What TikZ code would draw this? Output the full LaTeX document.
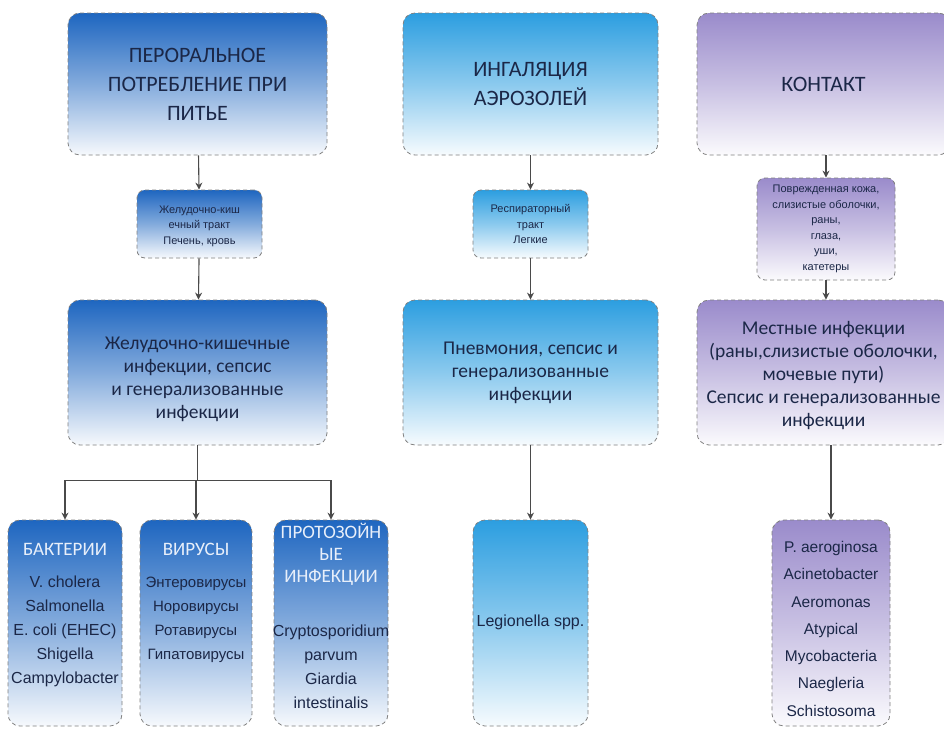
\documentclass[tikz,border=0pt]{standalone}
\usepackage{fontspec}
\setmainfont{Carlito}
\newfontfamily\listfont{Liberation Sans}
\usetikzlibrary{arrows.meta}

\definecolor{oralblue}{HTML}{1E66C0}
\definecolor{airblue}{HTML}{2C9EE0}
\definecolor{touchviolet}{HTML}{9A8BCB}
\definecolor{inktext}{HTML}{1B2747}
\definecolor{framegray}{HTML}{808080}
\definecolor{wirecol}{HTML}{4A4A4A}
\definecolor{paleheader}{HTML}{E8EFFA}

\tikzset{
  card/.style={draw=framegray, line width=0.8pt, dash pattern=on 4pt off 3pt,
    rounded corners=12pt, align=center, text=inktext, inner sep=0pt},
  oralcard/.style={card, top color=oralblue, bottom color=oralblue!4!white,
    middle color=oralblue!55!white},
  aircard/.style={card, top color=airblue, bottom color=airblue!4!white,
    middle color=airblue!55!white},
  touchcard/.style={card, top color=touchviolet, bottom color=touchviolet!4!white,
    middle color=touchviolet!55!white},
  sitecard/.style={rounded corners=8pt},
  headtext/.style={font=\fontsize{22}{29}\selectfont},
  midtext/.style={font=\fontsize{19.5}{23}\selectfont},
  sitetext/.style={font=\listfont\fontsize{11}{15.5}\selectfont},
  listtext/.style={font=\listfont\fontsize{16}{24}\selectfont, align=center,
    text=inktext, inner sep=0pt},
  grouphead/.style={font=\fontsize{19}{22}\selectfont, text=paleheader,
    align=center, inner sep=0pt},
  wire/.style={draw=wirecol, line width=1.1pt},
  flow/.style={wire, -{Stealth[length=7pt,width=7pt]}},
}

\begin{document}
\begin{tikzpicture}[x=1pt,y=-1pt]
\useasboundingbox[fill=white] (0,0) rectangle (944,728);

% --- oral route ---
\node[oralcard, minimum width=259, minimum height=142, headtext] (oraltop) at (197.5,84)
  {ПЕРОРАЛЬНОЕ\\ПОТРЕБЛЕНИЕ ПРИ\\ПИТЬЕ};
\node[oralcard, sitecard, minimum width=125, minimum height=68, sitetext] (oralsite) at (199.5,224)
  {\rule{0pt}{12pt}Желудочно-киш\\ечный тракт\\Печень, кровь};
\node[oralcard, minimum width=259, minimum height=145, midtext] (oralill) at (197.5,372.5)
  {\rule{0pt}{26pt}Желудочно-кишечные\\инфекции, сепсис\\и генерализованные\\инфекции};

\node[oralcard, minimum width=114, minimum height=206] (bact) at (65,623) {};
\node[oralcard, minimum width=112, minimum height=206] (viral) at (196,623) {};
\node[oralcard, minimum width=114, minimum height=206] (proto) at (331,623) {};

\node[grouphead] (bacthead) at (65,549) {БАКТЕРИИ};
\node[listtext, anchor=north] (bactlist) at (65,576)
  {V. cholera\\Salmonella\\E. coli (EHEC)\\Shigella\\Campylobacter};
\node[grouphead] (viralhead) at (196,549) {ВИРУСЫ};
\node[listtext, anchor=north, font=\listfont\fontsize{15}{24}\selectfont] (virallist) at (196,577)
  {Энтеровирусы\\Норовирусы\\Ротавирусы\\Гипатовирусы};
\node[grouphead] (protohead) at (331,554) {ПРОТОЗОЙН\\ЫЕ\\ИНФЕКЦИИ};
\node[listtext, anchor=north] (protolist) at (331,625)
  {Cryptosporidium\\parvum\\\fontsize{16}{19}\selectfont Giardia\\intestinalis};

% --- airborne route ---
\node[aircard, minimum width=255, minimum height=142, headtext] (airtop) at (530.5,84)
  {ИНГАЛЯЦИЯ\\АЭРОЗОЛЕЙ};
\node[aircard, sitecard, minimum width=115, minimum height=68, sitetext] (airsite) at (530.5,224)
  {Респираторный\\тракт\\Легкие};
\node[aircard, minimum width=255, minimum height=145, midtext] (airill) at (530.5,372.5)
  {Пневмония, сепсис и\\генерализованные\\инфекции};
\node[aircard, minimum width=115, minimum height=206] (legio) at (530.5,623) {};
\node[listtext] (legiotext) at (530.5,622) {Legionella spp.};

% --- contact route ---
\node[touchcard, minimum width=253, minimum height=142, headtext] (touchtop) at (823.5,84)
  {КОНТАКТ};
\node[touchcard, sitecard, minimum width=138, minimum height=102, sitetext] (touchsite) at (826,229)
  {Поврежденная кожа,\\слизистые оболочки,\\раны,\\глаза,\\уши,\\катетеры};
\node[touchcard, minimum width=253, minimum height=145, midtext] (touchill) at (823.5,372.5)
  {\rule{0pt}{20pt}Местные инфекции\\(раны,слизистые оболочки,\\мочевые пути)\\Сепсис и генерализованные\\инфекции};
\node[touchcard, minimum width=118, minimum height=206] (touchbugs) at (831,623) {};
\node[listtext, anchor=north, font=\listfont\fontsize{15.5}{27.3}\selectfont] (touchlist) at (831,541)
  {P. aeroginosa\\Acinetobacter\\Aeromonas\\Atypical\\Mycobacteria\\Naegleria\\Schistosoma};

% --- connectors ---
\draw[flow] (oraltop) -- (oralsite);
\draw[flow] (oralsite) -- (oralill);
\draw[wire] (oralill.south) -- ++(0,35) coordinate (fork);
\draw[wire] (fork -| bact.north) -- (fork -| proto.north);
\draw[flow] (fork -| bact.north) -- (bact.north);
\draw[flow] (fork -| viral.north) -- (viral.north);
\draw[flow] (fork -| proto.north) -- (proto.north);

\draw[flow] (airtop) -- (airsite);
\draw[flow] (airsite) -- (airill);
\draw[flow] (airill) -- (legio);

\draw[flow] (touchtop.south -| touchsite.north) -- (touchsite.north);
\draw[flow] (touchsite.south) -- (touchsite.south |- touchill.north);
\draw[flow] (touchill.south -| touchbugs.north) -- (touchbugs.north);
\end{tikzpicture}
\end{document}
